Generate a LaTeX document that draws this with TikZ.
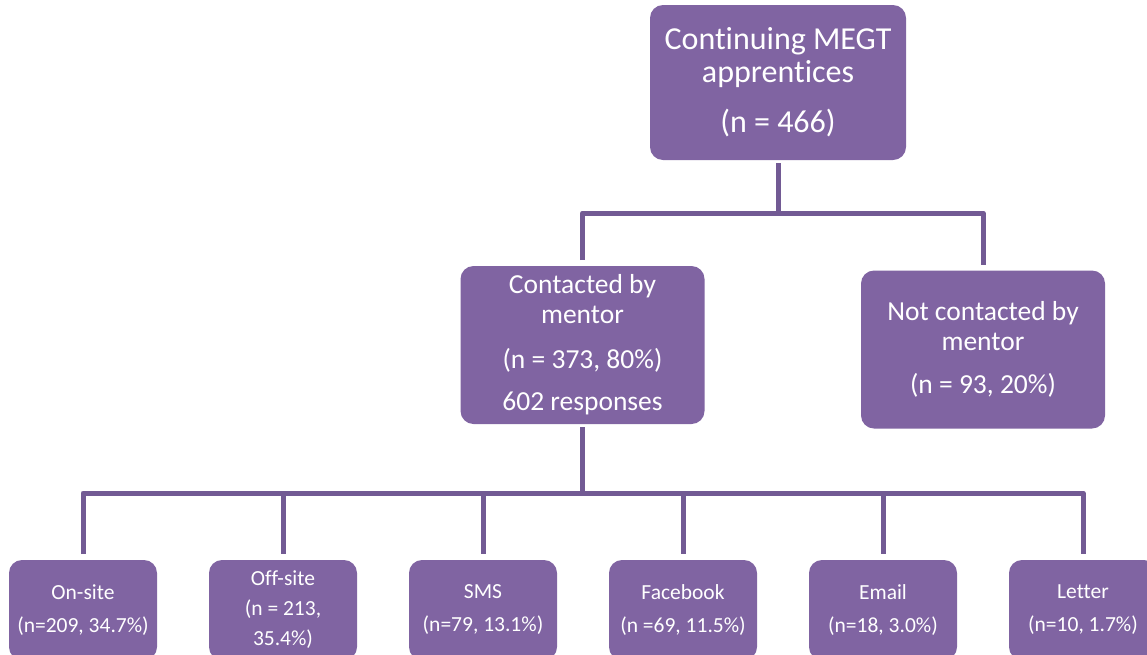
\documentclass[tikz,border=0pt]{standalone}
\usepackage{fontspec}
\setmainfont{Carlito}[Ligatures=NoCommon]
\usetikzlibrary{positioning}
\definecolor{boxpurple}{HTML}{8064A2}
\definecolor{linepurple}{HTML}{725A94}
\begin{document}
\begin{tikzpicture}[x=1pt,y=-1pt,line width=5pt,
  box/.style={rectangle,rounded corners=13pt,fill=boxpurple,text=white,align=center,inner sep=0pt,outer sep=0pt},
  top box/.style={box,minimum width=256pt,minimum height=155pt,font=\fontsize{32}{33}\selectfont},
  mid box/.style={box,minimum width=244pt,minimum height=158pt,font=\fontsize{27.5}{30}\selectfont},
  leaf/.style={box,minimum width=148pt,minimum height=100pt,anchor=north,font=\fontsize{21.5}{30}\selectfont},
  link/.style={draw=linepurple,line join=round}]

  \useasboundingbox (0,0) rectangle (1147,654);
  \clip (0,0) rectangle (1147,654);

  \node[top box] (top) at (778,82.5) {Continuing MEGT\\apprentices\\[17pt](n = 466)};
  \node[mid box] (contacted) at (582.5,345) {Contacted by\\mentor\\[15pt](n = 373, 80\%)\\[12pt]602 responses};
  \node[mid box] (notcontacted) at (983,349.5) {Not contacted by\\mentor\\[13pt](n = 93, 20\%)};

  \node[leaf] (onsite) at (83,560) {On-site\\[3pt](n=209, 34.7\%)};
  \node[leaf] (offsite) [right=52pt of onsite] {Off-site\\(n = 213,\\35.4\%)};
  \node[leaf] (sms) [right=52pt of offsite] {SMS\\[3pt](n=79, 13.1\%)};
  \node[leaf] (facebook) [right=52pt of sms] {Facebook\\[3pt](n =69, 11.5\%)};
  \node[leaf] (email) [right=52pt of facebook] {Email\\[3pt](n=18, 3.0\%)};
  \node[leaf] (letter) [right=52pt of email] {Letter\\[3pt](n=10, 1.7\%)};

  \path (top.south) ++(0,53) coordinate (split1);
  \path (contacted.south) ++(0,69) coordinate (split2);

  % top level
  \draw[link,shorten <=3pt] (top.south) -- (split1);
  \draw[link,shorten <=6pt,shorten >=6pt] (contacted.north) |- (split1) -| (notcontacted.north);
  % contact methods
  \draw[link,shorten <=3pt] (contacted.south) -- (split2);
  \draw[link,shorten <=6pt,shorten >=6pt] (onsite.north) |- (split2) -| (letter.north);
  \foreach \n in {offsite,sms,facebook,email}
    \draw[link,shorten >=6pt] (\n.north |- split2) -- (\n.north);
\end{tikzpicture}
\end{document}
